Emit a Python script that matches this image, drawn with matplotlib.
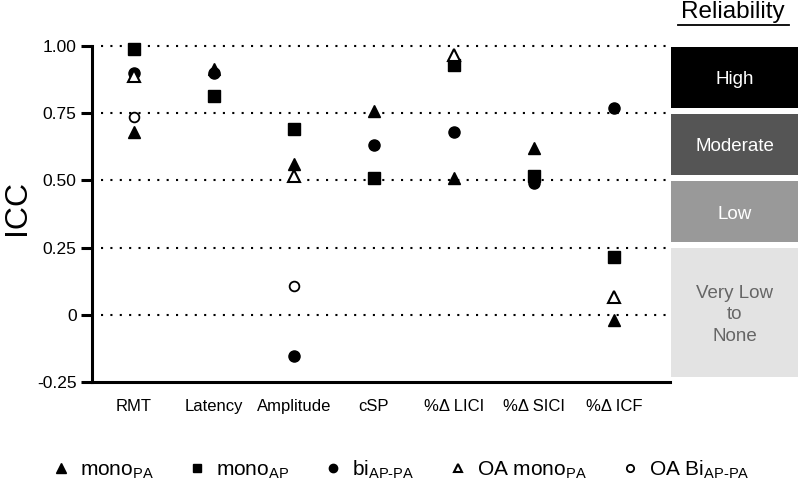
import numpy as np
import matplotlib
matplotlib.use('Agg')
import matplotlib.pyplot as plt
from matplotlib.lines import Line2D

plt.rcParams['font.family'] = ['Liberation Sans', 'DejaVu Sans']
plt.rcParams['mathtext.fontset'] = 'custom'
plt.rcParams['mathtext.rm'] = 'Liberation Sans'

measures = ['RMT', 'Latency', 'Amplitude', 'cSP', '%\u0394 LICI', '%\u0394 SICI', '%\u0394 ICF']
nan = np.nan
mono_pa = [0.68, 0.915, 0.56, 0.76, 0.51, 0.62, -0.02]
mono_ap = [0.99, 0.815, 0.69, 0.51, 0.93, 0.515, 0.215]
bi_ap_pa = [0.90, 0.90, -0.152, 0.63, 0.68, 0.49, 0.77]
oa_mono_pa = [0.89, nan, 0.515, nan, 0.965, nan, 0.067]
oa_bi_ap_pa = [0.735, nan, 0.107, nan, nan, nan, nan]

bands = ['High', 'Moderate', 'Low', 'Very Low\nto\nNone']
band_top = [1.0, 0.75, 0.5, 0.25]
band_bottom = [0.75, 0.5, 0.25, -0.25]
band_colors = ['#000000', '#555555', '#999999', '#e3e3e3']
band_text = ['white', 'white', 'white', '#666666']

fig = plt.figure(figsize=(8, 4.88), dpi=100)
ax = fig.add_axes([0.115, 0.2172, 0.7225, 0.6885])

x = np.arange(len(measures))
ax.plot(x, mono_pa, '^', color='black', ms=9, label=r'mono$_{\mathregular{PA}}$')
ax.plot(x, mono_ap, 's', color='black', ms=8, label=r'mono$_{\mathregular{AP}}$')
ax.plot(x, bi_ap_pa, 'o', color='black', ms=8, label=r'bi$_{\mathregular{AP\text{-}PA}}$')
ax.plot(x, oa_mono_pa, '^', mfc='white', mec='black', mew=1.5, ms=8, label=r'OA mono$_{\mathregular{PA}}$')
ax.plot(x, oa_bi_ap_pa, 'o', mfc='white', mec='black', mew=1.3, ms=7, label=r'OA Bi$_{\mathregular{AP\text{-}PA}}$')

for yv in [0, 0.25, 0.5, 0.75, 1.0]:
    ax.axhline(yv, xmin=0.015, color='black', lw=1.5, ls=(0, (1, 3.5)), zorder=0)

ax.set_xlim(-0.525, 6.7)
ax.set_ylim(-0.25, 1.0)
ax.set_yticks([-0.25, 0, 0.25, 0.5, 0.75, 1.0])
ax.set_yticklabels(['-0.25', '0', '0.25', '0.50', '0.75', '1.00'])
ax.set_xticks(x)
ax.set_xticklabels(measures)
ax.tick_params(axis='x', length=0, labelsize=12, pad=12)
ax.tick_params(axis='y', length=8, width=2.2, direction='out', labelsize=12.5, pad=3)
for s in ['top', 'right']:
    ax.spines[s].set_visible(False)
ax.spines['bottom'].set_linewidth(2.2)
ax.spines['left'].set_linewidth(2.2)
ax.set_ylabel('ICC', fontsize=23)
ax.yaxis.set_label_coords(-0.104, 0.52)
for line in ax.get_lines():
    line.set_clip_on(False)

# reliability panel
ax2 = fig.add_axes([0.839, 0.2172, 0.159, 0.6885], sharey=ax)
ax2.set_xlim(0, 1)
for name, top, bot, c, tc in zip(bands, band_top, band_bottom, band_colors, band_text):
    ax2.bar(0.5, (top - 0.002) - (bot + 0.02), bottom=bot + 0.02, width=1.0, color=c)
    ax2.text(0.5, (top + bot) / 2, name, ha='center', va='center', color=tc,
             fontsize=13.5, linespacing=1.35)
ax2.axis('off')

fig.text(0.916, 0.975, 'Reliability', ha='center', va='center', fontsize=17.5)
fig.add_artist(Line2D([0.848, 0.986], [0.948, 0.948], color='black', lw=1.3))

fig.legend(loc='center', bbox_to_anchor=(0.5, 0.038), ncol=5, frameon=False,
           fontsize=15, handletextpad=0.4, columnspacing=1.6, handlelength=1.0,
           markerscale=0.75)

fig.savefig('out.png', dpi=100)
